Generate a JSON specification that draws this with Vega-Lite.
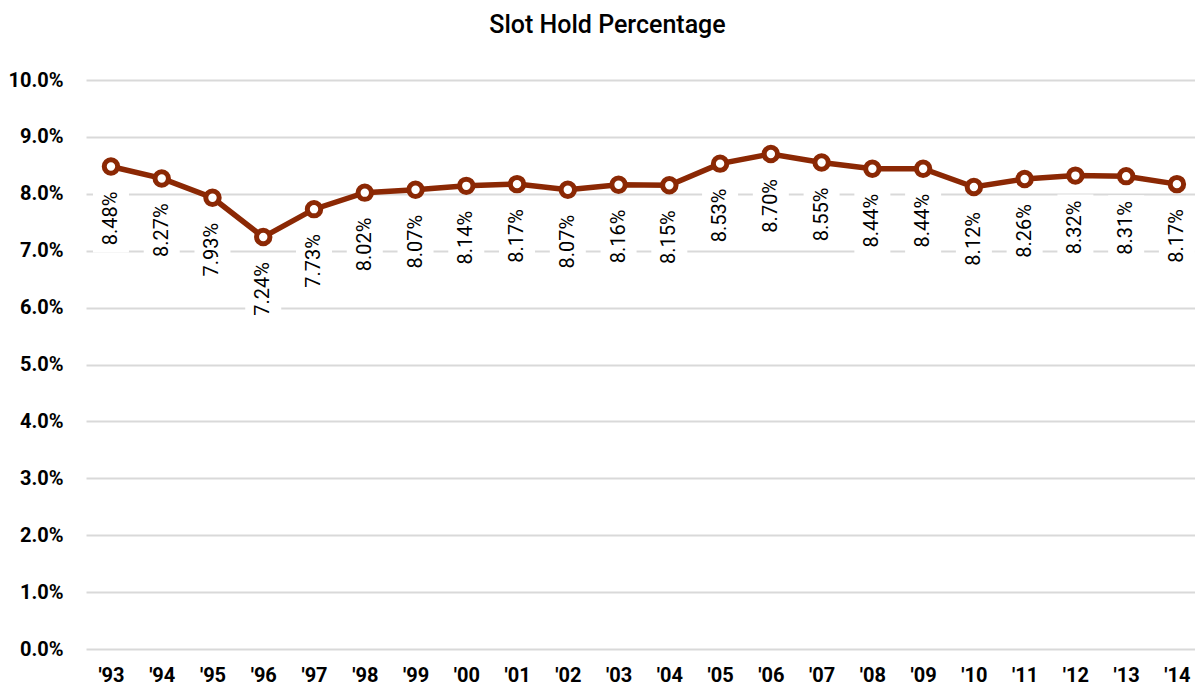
{
  "$schema": "https://vega.github.io/schema/vega-lite/v6.json",
  "autosize": "none",
  "width": 1109,
  "height": 569,
  "padding": {"left": 86, "top": 80, "right": 0, "bottom": 41},
  "background": "white",
  "config": {
    "view": {"stroke": null},
    "font": "Roboto"
  },
  "title": {
    "text": "Slot Hold Percentage",
    "fontSize": 25,
    "fontWeight": 500,
    "color": "#000000",
    "font": "Roboto",
    "anchor": "middle",
    "dx": -33,
    "offset": 32
  },
  "data": {
    "values": [
      {"year": "'93", "v": 0.0848},
      {"year": "'94", "v": 0.0827},
      {"year": "'95", "v": 0.0793},
      {"year": "'96", "v": 0.0724},
      {"year": "'97", "v": 0.0773},
      {"year": "'98", "v": 0.0802},
      {"year": "'99", "v": 0.0807},
      {"year": "'00", "v": 0.0814},
      {"year": "'01", "v": 0.0817},
      {"year": "'02", "v": 0.0807},
      {"year": "'03", "v": 0.0816},
      {"year": "'04", "v": 0.0815},
      {"year": "'05", "v": 0.0853},
      {"year": "'06", "v": 0.0870},
      {"year": "'07", "v": 0.0855},
      {"year": "'08", "v": 0.0844},
      {"year": "'09", "v": 0.0844},
      {"year": "'10", "v": 0.0812},
      {"year": "'11", "v": 0.0826},
      {"year": "'12", "v": 0.0832},
      {"year": "'13", "v": 0.0831},
      {"year": "'14", "v": 0.0817}
    ]
  },
  "encoding": {
    "x": {
      "field": "year",
      "type": "ordinal",
      "sort": null,
      "scale": {"type": "point", "padding": 0.424, "align": 0.58},
      "axis": {
        "title": null,
        "labelAngle": 0,
        "domain": false,
        "ticks": false,
        "grid": false,
        "labelFontSize": 20,
        "labelFontWeight": "bold",
        "labelColor": "#000000",
        "labelPadding": 16
      }
    },
    "y": {
      "field": "v",
      "type": "quantitative",
      "scale": {"domain": [0, 0.1], "nice": false},
      "axis": {
        "title": null,
        "format": ".1%",
        "values": [0, 0.01, 0.02, 0.03, 0.04, 0.05, 0.06, 0.07, 0.08, 0.09, 0.1],
        "domain": false,
        "ticks": false,
        "grid": true,
        "gridColor": "#d9d9d9",
        "gridWidth": 2,
        "labelFontSize": 20,
        "labelFontWeight": "bold",
        "labelColor": "#000000",
        "labelPadding": 23
      }
    }
  },
  "layer": [
    {
      "mark": {"type": "bar", "color": "white", "size": 36, "yOffset": 19, "y2Offset": 86},
      "encoding": {"y2": {"field": "v"}}
    },
    {
      "mark": {"type": "line", "color": "#8B2804", "strokeWidth": 5.5}
    },
    {
      "mark": {"type": "point", "shape": "circle", "filled": false, "fill": "white", "fillOpacity": 1, "stroke": "#8B2804", "strokeWidth": 5, "size": 180, "opacity": 1}
    },
    {
      "mark": {"type": "text", "angle": 270, "align": "right", "baseline": "middle", "dx": -25, "fontSize": 20, "color": "#000000"},
      "encoding": {"text": {"field": "v", "type": "quantitative", "format": ".2%"}}
    }
  ]
}
